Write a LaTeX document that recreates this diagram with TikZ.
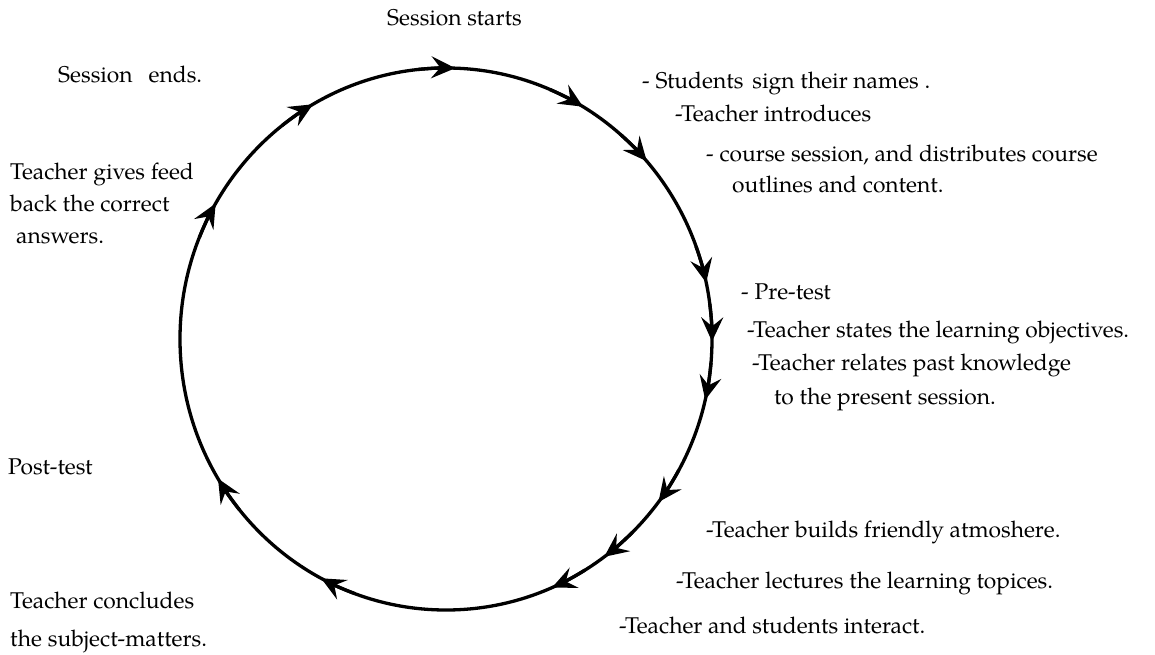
\documentclass[tikz,border=0pt]{standalone}
\usepackage{fontspec}
\setmainfont{TeX Gyre Pagella}
\usetikzlibrary{arrows.meta}
\begin{document}
\begin{tikzpicture}[x=1pt,y=-1pt,
  txt/.style={anchor=base west, inner sep=0pt, font=\fontsize{22.8}{30}\selectfont},
  cyc/.style={line width=3.3pt},
  tip/.style={line width=3.3pt, -{Stealth[length=24pt,width=22pt,inset=9pt]}}]
\useasboundingbox (0,0) rectangle (1155,655);
\coordinate (c) at (446,339);
\draw[cyc] (c) ellipse [x radius=266, y radius=271];
\foreach \t in {-88,-120,-150,-211,-242,-293.5,-306.5,-323,-347,-359.5,-12,-41,-59}{
  \pgfmathsetmacro\s{\t-8}
  \draw[tip] ([shift={(\s:266 and 271)}]c) arc[start angle=\s, end angle=\t, x radius=266, y radius=271];
}
\node[txt] (start) at (387,26) {Session starts};
\node[txt] (ends) at (58,83) {Session\hspace{16pt}ends.};
\node[txt] (fb1) at (10,179) {Teacher gives feed};
\node[txt] (fb2) at (10,211) {back the correct};
\node[txt] (fb3) at (16,243) {answers.};
\node[txt] (s1) at (642,89) {- Students\hspace{9pt}sign their names .};
\node[txt] (s2) at (675,122) {-Teacher introduces};
\node[txt] (s3) at (706,161) {- course session, and distributes course};
\node[txt] (s4) at (732,193) {outlines and content.};
\node[txt] (p1) at (741,299) {- Pre-test};
\node[txt] (p2) at (747,337) {-Teacher states the learning objectives.};
\node[txt] (p3) at (752,370) {-Teacher relates past knowledge};
\node[txt] (p4) at (774,404) {to the present session.};
\node[txt] (post) at (8,474) {Post-test};
\node[txt] (l1) at (706,537) {-Teacher builds friendly atmoshere.};
\node[txt] (l2) at (676,588) {-Teacher lectures the learning topices.};
\node[txt] (l3) at (619,633) {-Teacher and students interact.};
\node[txt] (c1) at (10,608) {Teacher concludes};
\node[txt] (c2) at (10,646) {the subject-matters.};
\end{tikzpicture}
\end{document}
